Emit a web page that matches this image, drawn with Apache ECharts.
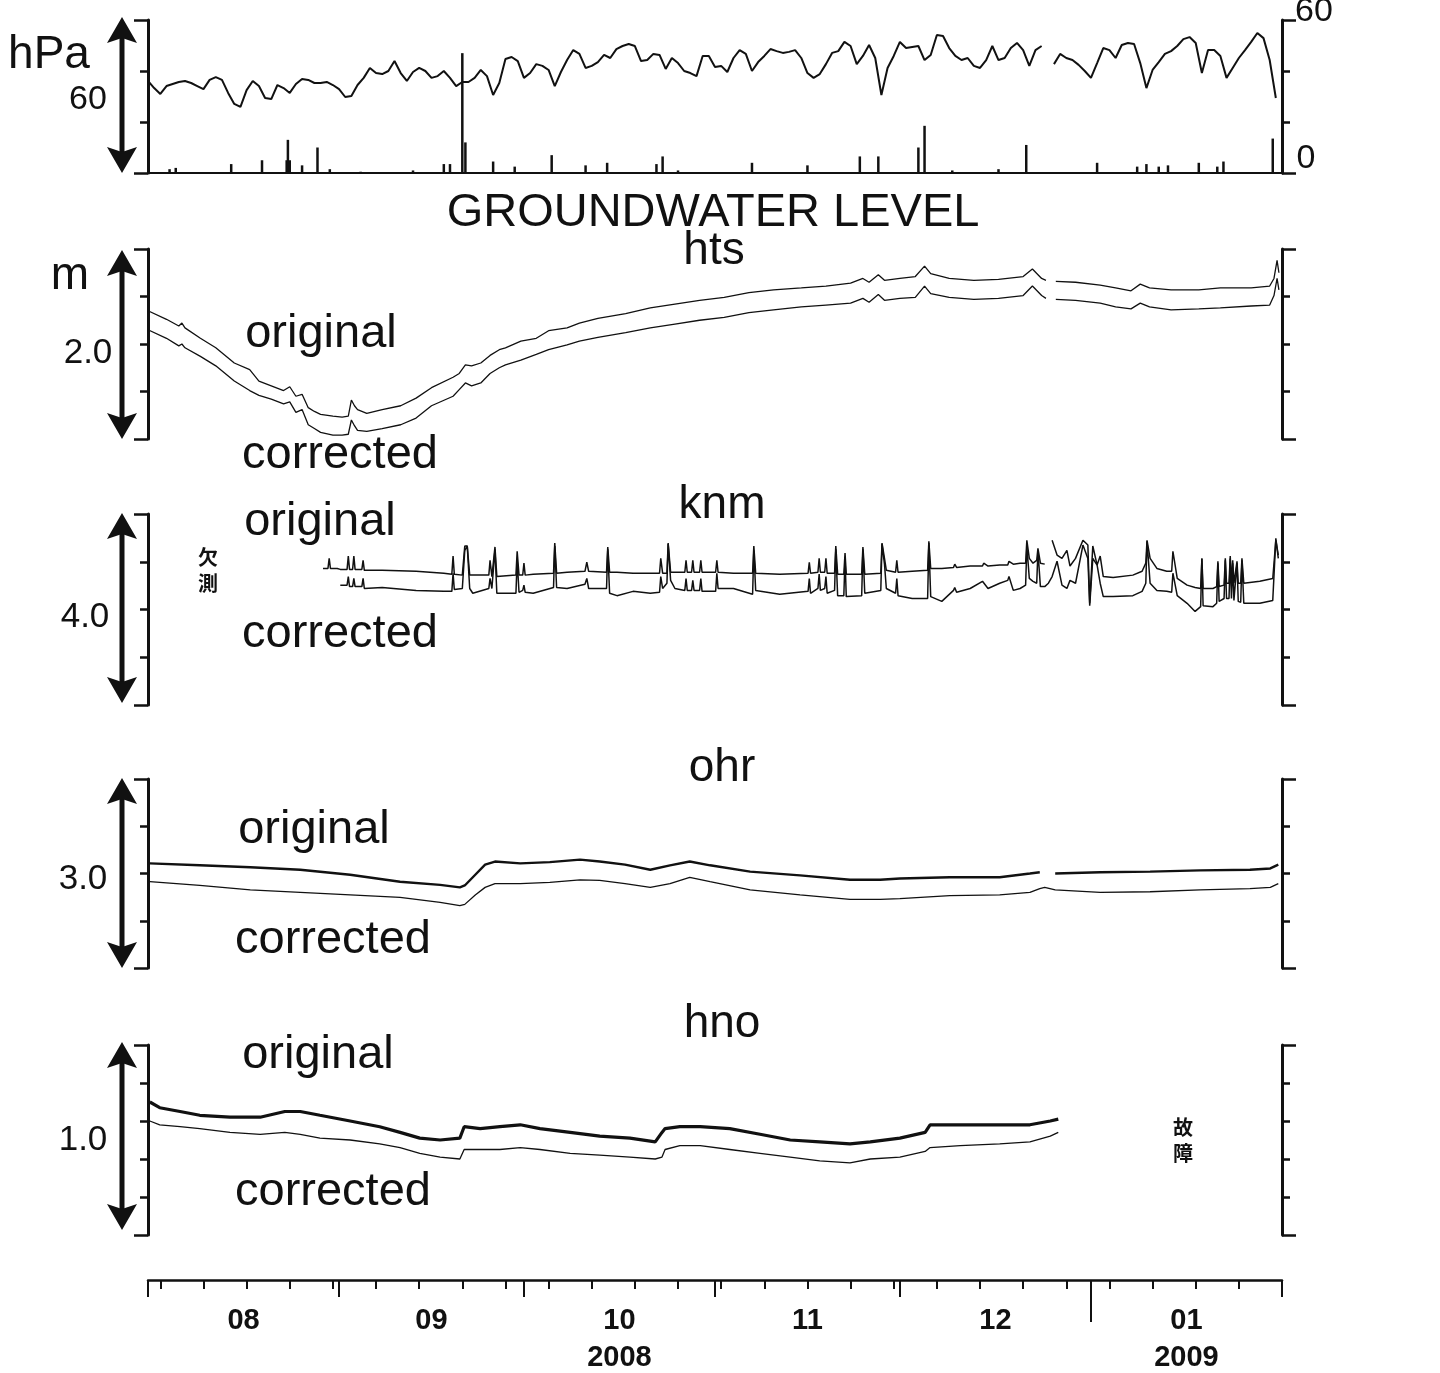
<!DOCTYPE html>
<html>
<head>
<meta charset="utf-8">
<title>Groundwater level</title>
<script src="https://cdn.jsdelivr.net/npm/echarts@6.0.0/dist/echarts.min.js"></script>
<style>
  html, body { margin: 0; padding: 0; background: #fff; }
  #chart { width: 1440px; height: 1373px; }
</style>
</head>
<body>
<div id="chart"></div>
<script>
const INK = '#111';
const SANS = '"Liberation Sans", Arial, sans-serif';
const CJK = '"Noto Sans CJK JP", sans-serif';

// x is counted in days from 2008-08-01
const DAYS = 184;
const monthStartDays = [0, 31, 61, 92, 122, 153, 184];
const monthMidDays = [15.5, 46, 76.5, 107, 137.5, 168.5];
const monthLabels = ['08', '09', '10', '11', '12', '01'];
const sundayDays = [2, 9, 16, 23, 30, 37, 44, 51, 58, 65, 72, 79, 86, 93, 100, 107, 114, 121, 128, 135, 142, 149, 156, 163, 170, 177];
const yearBreakDays = [153];
const yearLabelDays = [76.5, 168.5];
const yearLabels = ['2008', '2009'];

// atmospheric pressure, one value per day (hPa)
const pressureHpa = [
  1016.1, 1013.3, 1011.0, 1014.1, 1014.9, 1015.7, 1016.1, 1015.3, 1014.1, 1012.9,
  1016.5, 1017.6, 1016.5, 1011.4, 1007.1, 1005.9, 1012.5, 1016.1, 1014.1, 1009.4,
  1009.0, 1014.5, 1013.3, 1011.4, 1014.9, 1016.9, 1016.5, 1015.3, 1015.3, 1015.7,
  1014.5, 1012.9, 1009.8, 1010.2, 1014.5, 1017.3, 1021.2, 1019.2, 1018.8, 1020.0,
  1023.9, 1019.2, 1016.1, 1019.6, 1021.2, 1020.0, 1017.3, 1018.0, 1020.0, 1017.3,
  1014.1, 1015.7, 1015.7, 1017.3, 1020.4, 1018.0, 1010.6, 1015.3, 1024.7, 1025.5,
  1023.9, 1017.3, 1019.2, 1022.7, 1022.0, 1020.4, 1014.1, 1019.6, 1024.3, 1028.2,
  1026.7, 1021.2, 1022.0, 1023.5, 1026.3, 1025.1, 1028.6, 1029.8, 1030.6, 1029.8,
  1023.9, 1024.3, 1026.7, 1026.3, 1020.8, 1025.1, 1023.1, 1020.0, 1019.2, 1018.0,
  1025.9, 1025.9, 1021.6, 1022.0, 1019.6, 1025.1, 1028.2, 1026.7, 1020.0, 1023.5,
  1025.9, 1028.6, 1027.8, 1027.1, 1027.5, 1028.2, 1025.1, 1019.2, 1017.3, 1018.8,
  1022.7, 1027.1, 1027.8, 1031.4, 1029.8, 1022.7, 1025.9, 1030.2, 1025.1, 1010.6,
  1021.2, 1025.9, 1031.4, 1029.0, 1029.4, 1029.8, 1024.3, 1026.3, 1034.1, 1033.7,
  1029.0, 1025.9, 1024.3, 1025.1, 1022.0, 1021.2, 1024.3, 1029.8, 1024.3, 1025.1,
  1029.0, 1031.0, 1028.2, 1022.0, 1028.2, 1029.8, null, 1022.7, 1026.7, 1025.1,
  1024.3, 1022.4, 1020.0, 1017.3, 1023.1, 1029.0, 1028.2, 1025.1, 1030.2, 1031.0,
  1030.6, 1023.1, 1013.3, 1020.4, 1023.5, 1026.7, 1027.8, 1029.8, 1032.5, 1033.3,
  1031.0, 1019.2, 1028.2, 1028.2, 1025.9, 1017.3, 1021.2, 1025.1, 1028.2, 1031.4,
  1034.9, 1032.9, 1024.3, 1009.4
];

// precipitation (mm)
const rainDay = [3.5, 4.5, 13.5, 18.5, 22.5, 22.7, 23, 25, 27.5, 29.5, 34.5, 43, 48, 49, 51, 51.5, 56, 59.5, 65.5, 71, 74.5, 82.5, 83.5, 86, 98, 107, 115.5, 118.5, 125, 126, 130.5, 138, 142.5, 154, 160.5, 162, 164, 165.5, 170.5, 173.5, 174.5, 182.5];
const rainMm = [1.5, 2, 3.5, 5, 5, 13, 5, 3, 10, 1.5, 0.5, 1, 3.5, 3.5, 47, 12, 4.5, 2.5, 7, 3, 4, 3.5, 6.5, 1, 4, 3, 6.5, 6.5, 10, 18.5, 1, 1.5, 11, 4, 2.5, 3.5, 2.5, 3, 4, 2.5, 4.5, 13.5];

// hts (m, relative to bottom of 2.0 m span)
const htsDay = [0, 3, 5, 5.5, 6, 8.5, 11, 14, 16.5, 18, 20, 22, 23, 24, 25, 26, 27, 28, 30, 31.5, 32.5, 33, 33.5, 34, 35.5, 38, 41, 43.5, 46, 49.5, 50.5, 51.5, 52.5, 54, 55.5, 57, 58, 60.5, 63, 65, 68, 70, 73, 77.5, 81.5, 85.5, 89.5, 93.5, 97.5, 101.5, 106, 110, 114, 116, 117, 118.5, 119.5, 122, 124.5, 126, 127, 130, 134, 138, 142, 143.5, 145, 145.7, 146.5, 147.3, 150.5, 154.5, 157, 159.5, 161, 162.5, 166, 170.5, 174, 179, 182, 182.7, 183.2, 183.5];
const htsOriginal = [1.35, 1.26, 1.19, 1.22, 1.17, 1.06, 0.96, 0.80, 0.73, 0.61, 0.56, 0.51, 0.55, 0.45, 0.47, 0.33, 0.29, 0.26, 0.24, 0.23, 0.24, 0.41, 0.35, 0.31, 0.27, 0.31, 0.35, 0.43, 0.54, 0.65, 0.69, 0.78, 0.77, 0.80, 0.88, 0.94, 0.96, 1.03, 1.06, 1.14, 1.17, 1.22, 1.27, 1.32, 1.38, 1.42, 1.46, 1.49, 1.54, 1.57, 1.59, 1.61, 1.64, 1.69, 1.65, 1.73, 1.67, 1.69, 1.71, 1.82, 1.74, 1.69, 1.67, 1.68, 1.71, 1.79, 1.69, 1.67, null, 1.66, 1.65, 1.62, 1.59, 1.56, 1.63, 1.59, 1.57, 1.57, 1.59, 1.59, 1.61, 1.69, 1.88, 1.75];
const htsCorrected = [1.15, 1.06, 0.98, 1.00, 0.96, 0.87, 0.77, 0.61, 0.51, 0.46, 0.42, 0.37, 0.39, 0.28, 0.31, 0.15, 0.11, 0.07, 0.04, 0.04, 0.05, 0.20, 0.14, 0.09, 0.08, 0.11, 0.15, 0.22, 0.35, 0.45, 0.52, 0.59, 0.56, 0.59, 0.69, 0.75, 0.78, 0.83, 0.89, 0.94, 0.99, 1.03, 1.07, 1.12, 1.17, 1.21, 1.25, 1.28, 1.33, 1.36, 1.39, 1.41, 1.43, 1.48, 1.44, 1.52, 1.46, 1.48, 1.49, 1.61, 1.53, 1.49, 1.47, 1.48, 1.51, 1.61, 1.51, 1.48, null, 1.47, 1.46, 1.43, 1.39, 1.37, 1.43, 1.39, 1.36, 1.37, 1.38, 1.40, 1.41, 1.51, 1.69, 1.57];

// knm (m, 4.0 m span)
const knmDay = [28.4, 29.2, 29.4, 29.6, 30.7, 31.2, 32.3, 32.5, 32.7, 33.2, 33.4, 33.6, 34.7, 34.9, 35.1, 38, 43.5, 48, 49.3, 49.5, 49.7, 51, 51.4, 51.8, 52.2, 52.7, 55.3, 55.5, 55.8, 56.1, 56.3, 56.6, 59.7, 59.9, 60.2, 60.8, 61, 61.2, 62.5, 65.8, 66, 66.3, 68, 70.9, 71.2, 71.5, 74.4, 74.6, 74.9, 76.1, 78.7, 81.5, 83, 83.2, 83.5, 84.2, 84.4, 84.8, 85.5, 87.1, 87.3, 87.5, 88.2, 88.4, 88.6, 89.5, 89.7, 89.9, 92.1, 92.3, 92.5, 95, 98.1, 98.3, 98.6, 102.5, 107.1, 107.3, 107.5, 108.7, 108.9, 109.1, 109.8, 110, 110.2, 111.4, 111.6, 111.9, 112.9, 113.1, 113.3, 115.8, 116, 116.3, 118.9, 119.1, 119.5, 119.8, 121.3, 121.5, 121.7, 124, 126.5, 126.7, 127, 128.8, 130.7, 130.9, 131.2, 133.4, 135.4, 135.6, 136.3, 138.2, 139.5, 139.7, 140.4, 141.5, 142.4, 142.6, 143, 143.6, 144.2, 144.4, 144.8, 145.5, 146.1, 146.7, 147.5, 148.3, 149.1, 149.6, 150.5, 151.7, 152.5, 152.8, 153.3, 154, 154.5, 155, 156.6, 159.8, 161.3, 161.9, 162.1, 162.6, 163.7, 165.3, 166.1, 166.3, 167, 168.6, 169.9, 170.8, 171, 171.2, 172.8, 173.4, 173.6, 173.8, 174.6, 174.8, 175, 175.4, 175.6, 175.8, 176, 176.2, 176.5, 176.7, 176.9, 177.3, 177.5, 177.8, 180.4, 182.5, 183, 183.4];
const knmOriginal = [2.86, 2.86, 3.07, 2.86, 2.86, 2.84, 2.84, 3.12, 2.84, 2.84, 3.12, 2.84, 2.84, 3.03, 2.82, 2.82, 2.80, 2.76, 2.74, 3.12, 2.74, 2.72, 3.33, 3.33, 2.72, 2.72, 2.72, 3.03, 2.69, 2.69, 3.31, 2.69, 2.72, 3.22, 2.72, 2.72, 2.97, 2.72, 2.74, 2.76, 3.39, 2.76, 2.78, 2.80, 2.99, 2.80, 2.78, 3.31, 2.78, 2.78, 2.76, 2.76, 2.76, 3.07, 2.76, 2.76, 3.39, 2.78, 2.78, 2.78, 3.03, 2.78, 2.78, 3.03, 2.78, 2.78, 3.03, 2.78, 2.78, 3.03, 2.78, 2.76, 2.76, 3.33, 2.76, 2.74, 2.76, 2.99, 2.76, 2.78, 3.07, 2.78, 2.78, 3.07, 2.76, 2.76, 3.33, 2.74, 2.74, 3.18, 2.74, 2.74, 3.31, 2.74, 2.76, 3.39, 3.07, 2.82, 2.78, 3.03, 2.78, 2.80, 2.82, 3.43, 2.86, 2.86, 2.88, 2.95, 2.88, 2.91, 2.91, 2.97, 2.91, 2.93, 2.93, 3.01, 2.95, 2.97, 2.97, 3.45, 3.07, 2.97, 3.03, 3.28, 2.97, 2.95, null, 3.45, 3.14, 3.07, 3.24, 2.91, 3.07, 3.45, 3.35, 2.13, 3.33, 2.93, 3.12, 2.69, 2.67, 2.72, 2.80, 2.97, 3.45, 3.07, 2.86, 2.80, 2.80, 3.22, 2.65, 2.51, 2.46, 2.44, 3.07, 2.44, 2.44, 2.48, 3.01, 2.48, 2.51, 3.07, 2.55, 2.55, 3.12, 2.55, 3.03, 2.55, 2.55, 3.01, 2.55, 2.55, 3.07, 2.55, 2.59, 2.65, 3.45, 3.14];
const knmCorrected = [null, null, null, null, null, 2.51, 2.51, 2.69, 2.48, 2.48, 2.65, 2.48, 2.48, 2.65, 2.44, 2.46, 2.40, 2.38, 2.38, 2.76, 2.42, 2.44, 3.24, 3.33, 2.44, 2.34, 2.44, 2.65, 2.44, 2.40, 3.26, 2.34, 2.34, 3.03, 2.36, 2.40, 2.51, 2.36, 2.34, 2.46, 3.33, 2.46, 2.44, 2.53, 2.65, 2.44, 2.44, 3.26, 2.34, 2.29, 2.38, 2.34, 2.36, 2.69, 2.44, 2.55, 3.37, 2.61, 2.44, 2.40, 2.65, 2.40, 2.40, 2.61, 2.40, 2.40, 2.65, 2.38, 2.38, 2.76, 2.44, 2.44, 2.32, 3.24, 2.40, 2.32, 2.38, 2.65, 2.34, 2.44, 2.74, 2.40, 2.44, 2.69, 2.34, 2.40, 3.26, 2.29, 2.29, 3.07, 2.27, 2.29, 3.26, 2.34, 2.40, 3.37, 2.95, 2.44, 2.34, 2.65, 2.29, 2.23, 2.23, 3.39, 2.27, 2.17, 2.40, 2.46, 2.36, 2.44, 2.59, 2.63, 2.44, 2.55, 2.61, 2.69, 2.40, 2.44, 2.51, 3.33, 2.65, 2.59, 2.55, 3.22, 2.48, 2.48, 2.55, 2.69, 3.01, 2.51, 2.44, 2.61, 2.55, 3.35, 3.07, 2.08, 3.07, 2.93, 2.55, 2.27, 2.27, 2.29, 2.38, 2.55, 3.43, 2.55, 2.40, 2.38, 2.36, 2.76, 2.29, 2.13, 1.96, 2.06, 3.07, 2.08, 2.06, 2.13, 2.97, 2.17, 2.23, 3.03, 2.23, 2.23, 3.07, 2.23, 2.97, 2.19, 2.19, 2.97, 2.17, 2.15, 3.03, 2.13, 2.13, 2.19, 3.49, 3.07];

// ohr (m, 3.0 m span)
const ohrDay = [0.3, 8.4, 16.6, 24.7, 32.8, 40.9, 47.4, 50.6, 51.4, 53.1, 54.7, 56.3, 60.4, 65.2, 70.1, 73.3, 77.4, 81.5, 84.7, 87.9, 91.2, 97.7, 105.8, 113.9, 118.8, 122, 130.1, 138.2, 143.1, 144.7, 145.5, 147.2, 154.5, 162.6, 170.7, 178.8, 182.1, 183.4];
const ohrOriginal = [1.66, 1.63, 1.60, 1.56, 1.48, 1.37, 1.32, 1.28, 1.31, 1.48, 1.64, 1.69, 1.66, 1.68, 1.72, 1.69, 1.64, 1.56, 1.63, 1.69, 1.63, 1.53, 1.47, 1.40, 1.40, 1.42, 1.44, 1.44, 1.50, 1.52, null, 1.50, 1.52, 1.53, 1.55, 1.56, 1.58, 1.64];
const ohrCorrected = [1.37, 1.31, 1.24, 1.20, 1.16, 1.12, 1.04, 0.99, 1.01, 1.16, 1.28, 1.34, 1.34, 1.36, 1.40, 1.39, 1.34, 1.28, 1.34, 1.44, 1.37, 1.24, 1.16, 1.09, 1.09, 1.10, 1.15, 1.16, 1.20, 1.26, 1.28, 1.24, 1.20, 1.21, 1.24, 1.26, 1.28, 1.34];

// hno (m, 1.0 m span), gauge failed after mid-December
const hnoDay = [0.3, 1.9, 5.2, 8.4, 13.3, 18.2, 22.2, 24.7, 27.9, 32.8, 37.6, 40.9, 44.1, 47.4, 50.6, 51.3, 53.9, 57.1, 60.4, 63.6, 68.5, 73.3, 78.2, 82.3, 83.4, 83.9, 86.3, 89.6, 94.4, 99.3, 104.2, 109, 113.9, 117.2, 122, 126.1, 126.9, 131.8, 138.2, 143.1, 146.4, 147.7];
const hnoOriginal = [0.70, 0.67, 0.65, 0.63, 0.62, 0.62, 0.65, 0.65, 0.63, 0.60, 0.57, 0.54, 0.51, 0.50, 0.51, 0.57, 0.56, 0.57, 0.58, 0.56, 0.54, 0.52, 0.51, 0.49, 0.54, 0.56, 0.57, 0.57, 0.56, 0.53, 0.50, 0.49, 0.48, 0.49, 0.51, 0.54, 0.58, 0.58, 0.58, 0.58, 0.60, 0.61];
const hnoCorrected = [0.60, 0.58, 0.57, 0.56, 0.54, 0.53, 0.54, 0.53, 0.51, 0.50, 0.48, 0.46, 0.43, 0.41, 0.40, 0.45, 0.45, 0.45, 0.46, 0.45, 0.43, 0.42, 0.41, 0.40, 0.41, 0.45, 0.47, 0.47, 0.45, 0.43, 0.41, 0.39, 0.38, 0.40, 0.41, 0.44, 0.46, 0.47, 0.48, 0.49, 0.52, 0.54];

// panel boxes (px)
const panels = [
  { top: 20, height: 153 },
  { top: 249, height: 190 },
  { top: 514, height: 191 },
  { top: 779, height: 189 },
  { top: 1045, height: 190 }
];

const chart = echarts.init(document.getElementById('chart'), null, { renderer: 'canvas' });

const grids = panels.map(p => ({ left: 148, right: 158, top: p.top, height: p.height }));
grids.push({ left: 148, right: 158, top: 1200, height: 80 });

// a bracket = short ticks at every interval plus longer end stubs
function bracket(gridIndex, position, min, max, interval) {
  const base = {
    type: 'value', gridIndex, position, min, max,
    axisLabel: { show: false }, splitLine: { show: false }
  };
  return [
    Object.assign({}, base, {
      interval,
      axisLine: { show: true, lineStyle: { color: INK, width: 3 } },
      axisTick: { show: true, inside: false, length: 8, lineStyle: { color: INK, width: 2.5 } }
    }),
    Object.assign({}, base, {
      interval: max - min,
      axisLine: { show: false },
      axisTick: { show: true, inside: false, length: 14, lineStyle: { color: INK, width: 2.5 } }
    })
  ];
}

const yAxes = [
  ...bracket(0, 'left', 980, 1040, 20), ...bracket(0, 'right', 0, 60, 20),
  ...bracket(1, 'left', 0, 2, 0.5), ...bracket(1, 'right', 0, 2, 0.5),
  ...bracket(2, 'left', 0, 4, 1), ...bracket(2, 'right', 0, 4, 1),
  ...bracket(3, 'left', 0, 3, 0.75), ...bracket(3, 'right', 0, 3, 0.75),
  ...bracket(4, 'left', 0, 1, 0.2), ...bracket(4, 'right', 0, 1, 0.2),
  { type: 'value', gridIndex: 5, show: false, min: 0, max: 1 }
];

const xAxes = panels.map((p, i) => ({
  type: 'value', gridIndex: i, min: 0, max: DAYS, show: i === 0,
  axisLine: { show: true, onZero: false, lineStyle: { color: INK, width: 2 } },
  axisTick: { show: false }, axisLabel: { show: false }, splitLine: { show: false }
}));

function timeAxis(ticks, len, withLine) {
  return {
    type: 'value', gridIndex: 5, position: 'bottom', min: 0, max: DAYS,
    axisLine: { show: withLine, onZero: false, lineStyle: { color: INK, width: 2.5 } },
    axisTick: { show: true, customValues: ticks, length: len, lineStyle: { color: INK, width: 2 } },
    axisLabel: { show: false }, splitLine: { show: false }
  };
}
function labelAxis(values, names, margin) {
  return {
    type: 'value', gridIndex: 5, position: 'bottom', min: 0, max: DAYS,
    axisLine: { show: false, onZero: false }, axisTick: { show: false }, splitLine: { show: false },
    axisLabel: {
      show: true, customValues: values, margin,
      formatter: v => names[values.indexOf(v)] || '',
      color: INK, fontFamily: SANS, fontWeight: 'bold', fontSize: 29
    }
  };
}
xAxes.push(
  timeAxis(sundayDays, 9, true),
  timeAxis(monthStartDays, 17, false),
  timeAxis(yearBreakDays, 42, false),
  labelAxis(monthMidDays, monthLabels, 26),
  labelAxis(yearLabelDays, yearLabels, 63)
);

function line(grid, yIndex, days, vals, width) {
  return {
    type: 'line', xAxisIndex: grid, yAxisIndex: yIndex,
    data: days.map((d, i) => [d, vals[i]]),
    symbol: 'none', silent: true, connectNulls: false,
    lineStyle: { color: INK, width }
  };
}

const series = [
  line(0, 0, pressureHpa.map((v, i) => i), pressureHpa, 2),
  {
    type: 'bar', xAxisIndex: 0, yAxisIndex: 2, barWidth: 2.5, silent: true,
    data: rainDay.map((d, i) => [d, rainMm[i]]),
    itemStyle: { color: INK }
  },
  line(1, 4, htsDay, htsOriginal, 1.3),
  line(1, 4, htsDay, htsCorrected, 1.3),
  line(2, 8, knmDay, knmOriginal, 1.5),
  line(2, 8, knmDay, knmCorrected, 1.5),
  line(3, 12, ohrDay, ohrOriginal, 2.4),
  line(3, 12, ohrDay, ohrCorrected, 1.3),
  line(4, 16, hnoDay, hnoOriginal, 3.2),
  line(4, 16, hnoDay, hnoCorrected, 1.3)
];

// double-headed span arrows on the left
function arrow(x, y1, y2) {
  return [
    { type: 'line', shape: { x1: x, y1: y1 + 18, x2: x, y2: y2 - 18 }, style: { stroke: INK, lineWidth: 5 } },
    { type: 'polygon', shape: { points: [[x, y1], [x - 15, y1 + 26], [x, y1 + 21], [x + 15, y1 + 26]] }, style: { fill: INK } },
    { type: 'polygon', shape: { points: [[x, y2], [x - 15, y2 - 26], [x, y2 - 21], [x + 15, y2 - 26]] }, style: { fill: INK } }
  ];
}

function text(str, x, y, size, opts) {
  const o = opts || {};
  return {
    type: 'text', x, y: y + 3, silent: true,
    style: {
      text: str, fill: INK,
      font: (o.weight || 'normal') + ' ' + size + 'px ' + (o.family || SANS),
      textAlign: o.align || 'center', textVerticalAlign: 'middle',
      lineHeight: o.lineHeight
    }
  };
}

const graphics = [
  ...arrow(122, 17, 173),
  ...arrow(122, 250, 439),
  ...arrow(122, 513, 703),
  ...arrow(122, 778, 968),
  ...arrow(122, 1042, 1230),
  text('hPa', 49, 52, 46),
  text('60', 88, 97, 34),
  text('60', 1314, 9, 34),
  text('0', 1306, 156, 34),
  text('GROUNDWATER LEVEL', 713, 210, 47),
  text('hts', 714, 248, 46),
  text('m', 70, 273, 46),
  text('2.0', 88, 350, 35),
  text('original', 321, 331, 47),
  text('corrected', 340, 452, 47),
  text('knm', 722, 502, 46),
  text('4.0', 85, 614, 35),
  text('original', 320, 519, 47),
  text('corrected', 340, 631, 47),
  text('欠\n測', 208, 567, 20, { family: CJK, weight: 'bold', lineHeight: 26 }),
  text('ohr', 722, 765, 46),
  text('3.0', 83, 876, 35),
  text('original', 314, 827, 47),
  text('corrected', 333, 937, 47),
  text('hno', 722, 1021, 46),
  text('1.0', 83, 1137, 35),
  text('original', 318, 1052, 47),
  text('corrected', 333, 1189, 47),
  text('故\n障', 1183, 1137, 20, { family: CJK, weight: 'bold', lineHeight: 26 })
];

chart.setOption({
  animation: false,
  backgroundColor: '#fff',
  grid: grids,
  xAxis: xAxes,
  yAxis: yAxes,
  series,
  graphic: { elements: graphics }
});
</script>
</body>
</html>
